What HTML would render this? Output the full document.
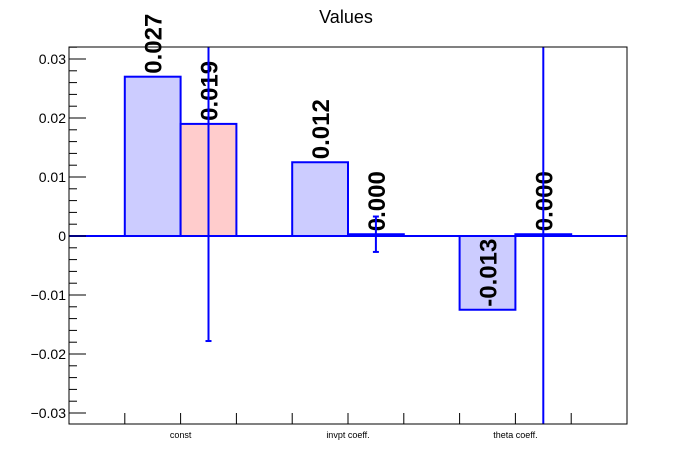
<!DOCTYPE html>
<html><head><meta charset="utf-8"><style>
body{margin:0;background:#fff;}
svg{display:block;font-family:"Liberation Sans",Arial,sans-serif;}
</style></head><body>
<svg id="c" width="696" height="472">
<rect x="0" y="0" width="696" height="472" fill="#fff"/>
<text x="346" y="23" font-size="18" text-anchor="middle">Values</text>
<g id="bars"></g>
<g id="axes"></g>
</svg>
<script>
const categories = ["const", "invpt coeff.", "theta coeff."];
const series1 = [0.027, 0.0125, -0.0125];
const series2 = [0.019, 0.0003, 0.0003];
const series2Err = [0.0368, 0.003, 0.08];
const labels1 = ["0.027", "0.012", "-0.013"];
const labels2 = ["0.019", "0.000", "0.000"];
const yTicks = [-0.03, -0.02, -0.01, 0, 0.01, 0.02, 0.03];
const yTickLabels = ["\u22120.03", "\u22120.02", "\u22120.01", "0", "0.01", "0.02", "0.03"];

const NS = "http://www.w3.org/2000/svg";
const L = 69, R = 627, T = 47, B = 424;
const nBins = 10, bw = (R - L) / nBins;
function y(v){ return 236 - v * 5900; }
function xBin(i){ return L + i * bw; }
function mk(tag, attrs, parent){ const e = document.createElementNS(NS, tag); for (const k in attrs) e.setAttribute(k, attrs[k]); parent.appendChild(e); return e; }
const bars = document.getElementById("bars"), axes = document.getElementById("axes");

// zero baseline (histogram outline for empty bins)
const zl = mk("line", {x1:L, x2:R, y1:y(0), y2:y(0), stroke:"#0000ff", "stroke-width":2}, bars);



function clampY(v){ return Math.max(T, Math.min(B, y(v))); }

categories.forEach((c, i) => {
  const b1 = 1 + 3 * i, b2 = 2 + 3 * i;
  [[series1[i], b1, "#ccccff", labels1[i], "series1"], [series2[i], b2, "#ffcccc", labels2[i], "series2"]].forEach(([v, b, fill, lab, s]) => {
    const x0 = xBin(b), y0 = Math.min(y(v), y(0)), h = Math.abs(y(v) - y(0));
    const r = mk("rect", {x:x0, y:y0, width:bw, height:Math.max(h, 0.5), fill:fill, stroke:"#0000ff", "stroke-width":2}, bars);
    
    
    const tx = x0 + bw / 2 + 9, ty = y(v) - 3;
    const t = mk("text", {x:tx, y:ty, "font-size":24, "font-weight":"bold", transform:"rotate(-90 " + tx + " " + ty + ")"}, bars);
    t.textContent = lab;
    
    
  });
  // error bar for series2
  const ex = xBin(b2) + bw / 2, v = series2[i], e = series2Err[i];
  const yt = clampY(v + e), yb = clampY(v - e);
  const el = mk("line", {x1:ex, x2:ex, y1:yt, y2:yb, stroke:"#0000ff", "stroke-width":2}, bars);
  
  
  [[v + e, yt], [v - e, yb]].forEach(([val, yy]) => {
    if (y(val) > T && y(val) < B) {
      const cap = mk("line", {x1:ex - 3, x2:ex + 3, y1:yy, y2:yy, stroke:"#0000ff", "stroke-width":2}, bars);
      
      
    }
  });
  const cl = mk("text", {x:xBin(b2), y:438, "font-size":9, "text-anchor":"middle"}, axes);
  cl.textContent = c;
  
  
});

// frame
const fr = mk("rect", {x:L, y:T, width:R - L, height:B - T, fill:"none", stroke:"#000", "stroke-width":1}, axes);



// x ticks
for (let i = 1; i < nBins; i++) {
  const tk = mk("line", {x1:xBin(i), x2:xBin(i), y1:B, y2:B - 11, stroke:"#000", "stroke-width":1}, axes);
  
  
}
// y ticks
yTicks.forEach((v, i) => {
  const tk = mk("line", {x1:L, x2:L + 17, y1:y(v), y2:y(v), stroke:"#000", "stroke-width":1}, axes);
  
  
  const tl = mk("text", {x:L - 3, y:y(v) + 5, "font-size":14, "text-anchor":"end"}, axes);
  tl.textContent = yTickLabels[i];
  
  
});
for (let k = -32; k <= 32; k++) {
  if (k % 5 === 0) continue;
  const v = k * 0.002 * 1;
  const vv = k * 0.01 / 5;
  const yy = y(vv);
  if (yy <= T || yy >= B) continue;
  const mt = mk("line", {x1:L, x2:L + 8, y1:yy, y2:yy, stroke:"#000", "stroke-width":1}, axes);
  
  
}
</script>
</body></html>
